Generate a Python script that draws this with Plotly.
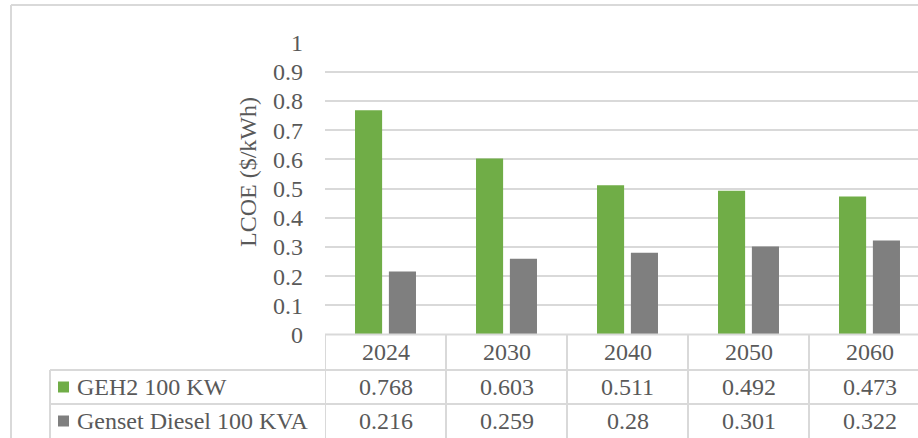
import plotly.graph_objects as go

years = ["2024", "2030", "2040", "2050", "2060"]
geh2 = [0.768, 0.603, 0.511, 0.492, 0.473]
diesel = [0.216, 0.259, 0.28, 0.301, 0.322]
series_names = ["GEH2 100 KW", "Genset Diesel 100 KVA"]
series_colors = ["#70AD47", "#7F7F7F"]
y_ticks = [0, 0.1, 0.2, 0.3, 0.4, 0.5, 0.6, 0.7, 0.8, 0.9, 1]

W, H = 918, 438
FONT = "Liberation Serif"
TXT = "#595959"
LINE = "#D9D9D9"
FS = 24

def px(x):
    return x / W

def py(y):
    return 1 - y / H

# plot area in pixels
left, top, bottom = 325, 42.5, 334.5
cat_w = 121.0

fig = go.Figure()
for name, vals, col in zip(series_names, [geh2, diesel], series_colors):
    fig.add_trace(go.Bar(x=list(range(len(years))), y=vals, name=name,
                         marker=dict(color=col, line=dict(width=0)),
                         showlegend=False, hoverinfo="y"))

fig.update_layout(
    width=W, height=H,
    margin=dict(l=0, r=0, t=0, b=0, pad=0, autoexpand=False),
    paper_bgcolor="white", plot_bgcolor="white",
    barmode="group", bargap=0.44, bargroupgap=0.2,
    font=dict(family=FONT, color=TXT, size=FS),
    xaxis=dict(domain=[px(left), 1], range=[-0.5, -0.5 + (W - left) / cat_w],
               showticklabels=False, showgrid=False, zeroline=False,
               showline=False, ticks=""),
    yaxis=dict(domain=[py(bottom), py(top)], range=[0, 1],
               tickvals=y_ticks, ticktext=[f"{v:g}" for v in y_ticks],
               showgrid=True, gridcolor=LINE, gridwidth=1.5,
               zeroline=False, showline=False, ticks="",
               ticklabelstandoff=21,
               tickfont=dict(family=FONT, color=TXT, size=FS)),
)

shapes = []
# outer chart border
shapes.append(dict(type="line", xref="paper", yref="paper", x0=px(11), x1=1, y0=py(5), y1=py(5),
                   line=dict(color=LINE, width=2)))
shapes.append(dict(type="line", xref="paper", yref="paper", x0=px(11), x1=px(11), y0=py(5), y1=0,
                   line=dict(color=LINE, width=2)))

# data table grid
row_y = [334.5, 370, 404, 438]
shapes.append(dict(type="line", xref="paper", yref="paper", x0=px(left), x1=1,
                   y0=py(row_y[0]), y1=py(row_y[0]), line=dict(color=LINE, width=2)))
for ry in row_y[1:3]:
    shapes.append(dict(type="line", xref="paper", yref="paper", x0=px(50), x1=1,
                       y0=py(ry), y1=py(ry), line=dict(color=LINE, width=2)))
shapes.append(dict(type="line", xref="paper", yref="paper", x0=px(50), x1=px(50),
                   y0=py(row_y[1]), y1=0, line=dict(color=LINE, width=2)))
for i in range(len(years)):
    shapes.append(dict(type="line", xref="x", yref="paper", x0=i - 0.5, x1=i - 0.5,
                       y0=py(row_y[0]), y1=0, line=dict(color=LINE, width=2)))

# legend keys in table
for r, col in enumerate(series_colors):
    cy = (row_y[r + 1] + row_y[r + 2]) / 2
    shapes.append(dict(type="rect", xref="paper", yref="paper", x0=px(58), x1=px(69),
                       y0=py(cy - 5.5), y1=py(cy + 5.5), fillcolor=col, line=dict(width=0)))

annotations = []
# header row
hy = (row_y[0] + row_y[1]) / 2
for i, yr in enumerate(years):
    annotations.append(dict(x=i, y=py(hy), xref="x", yref="paper", text=yr, showarrow=False,
                            xanchor="center", yanchor="middle",
                            font=dict(family=FONT, color=TXT, size=FS)))
for r, (name, vals) in enumerate(zip(series_names, [geh2, diesel])):
    cy = (row_y[r + 1] + row_y[r + 2]) / 2
    annotations.append(dict(x=px(75), y=py(cy), xref="paper", yref="paper", text=name,
                            showarrow=False, xanchor="left", yanchor="middle",
                            font=dict(family=FONT, color=TXT, size=FS)))
    for i, v in enumerate(vals):
        annotations.append(dict(x=i, y=py(cy), xref="x", yref="paper", text=f"{v:g}",
                                showarrow=False, xanchor="center", yanchor="middle",
                                font=dict(family=FONT, color=TXT, size=FS)))

# y-axis title
annotations.append(dict(x=px(248), y=py(172), xref="paper", yref="paper", text="LCOE ($/kWh)",
                        textangle=-90, showarrow=False, xanchor="center", yanchor="middle",
                        font=dict(family=FONT, color=TXT, size=FS)))

fig.update_layout(shapes=shapes, annotations=annotations)
fig.write_html("out.html", config={"displayModeBar": False},
               post_script="document.body.style.margin='0';document.body.style.overflow='hidden';")
